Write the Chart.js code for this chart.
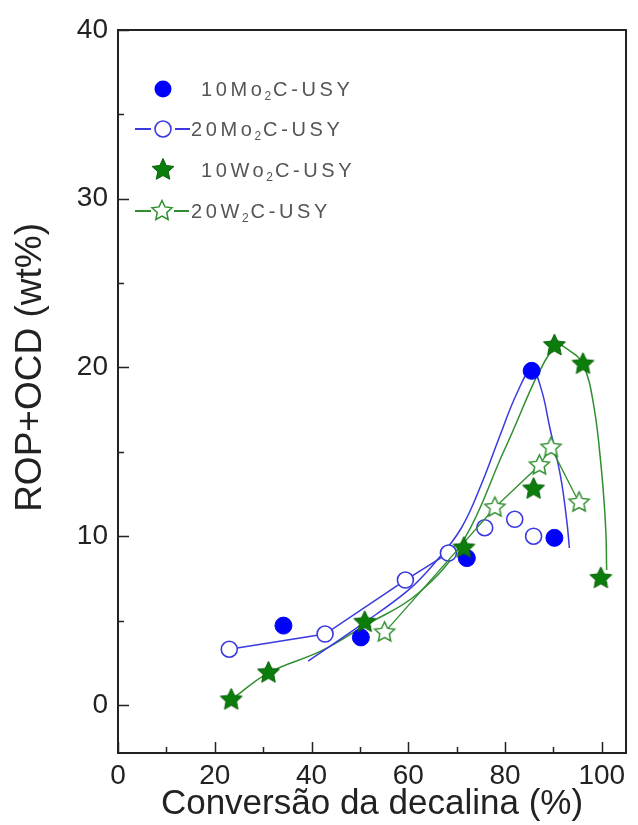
<!DOCTYPE html>
<html><head><meta charset="utf-8">
<script src="https://cdn.jsdelivr.net/npm/chart.js@4/dist/chart.umd.min.js"></script>
<style>html,body{margin:0;padding:0;background:#fff}#wrap{width:638px;height:825px}</style>
</head><body><div id="wrap"><canvas id="c" width="638" height="825"></canvas></div>
<script>
// ---- data ----
const mo10X = [34.2, 50.2, 72.1, 85.5, 90.2];
const mo10Y = [4.7, 4.0, 8.7, 19.8, 9.9];
const mo20X = [23.0, 42.8, 59.4, 68.3, 75.8, 82.0, 85.9];
const mo20Y = [3.3, 4.2, 7.4, 9.0, 10.5, 11.0, 10.0];
const w10X = [23.4, 31.1, 51.0, 71.5, 85.9, 90.2, 96.1, 99.8];
const w10Y = [0.3, 1.9, 4.9, 9.3, 12.8, 21.3, 20.2, 7.5];
const w20X = [55.1, 77.9, 87.1, 89.5, 95.3];
const w20Y = [4.3, 11.7, 14.2, 15.25, 12.0];
// hand-drawn trend curves
const mo10FitX = [39.3, 50.0, 60.0, 66.0, 71.0, 75.0, 79.0, 82.5, 85.5, 87.5, 89.2, 91.5, 92.8, 93.3];
const mo10FitY = [2.6, 4.7, 6.8, 8.6, 10.5, 13.0, 16.0, 18.5, 19.9, 18.7, 16.5, 13.5, 10.8, 9.3];
const w10FitX = [23.4, 31.1, 42.0, 51.0, 62.0, 71.5, 80.0, 90.2, 93.3, 96.1, 98.3, 99.9, 100.8, 101.0];
const w10FitY = [0.3, 1.9, 3.2, 4.7, 6.6, 9.8, 15.2, 21.3, 21.0, 20.2, 17.8, 14.0, 10.5, 8.0];
const legendParts = [['10Mo','2','C-USY'], ['20Mo','2','C-USY'], ['10Wo','2','C-USY'], ['20W','2','C-USY']];
const xTicks = [0,10,20,30,40,50,60,70,80,90,100];
const xLabels = [0,20,40,60,80,100];
const yTicks = [0,5,10,15,20,25,30,35,40];
const yLabels = [0,10,20,30,40];
const xTitle = 'Conversão da decalina (%)';
const yTitle = 'ROP+OCD (wt%)';

const BLUE = '#0000ff', BLUE_L = '#3a3ae0', GREEN = '#0b7d0b', GREEN_L = '#2f8f2f';
const FONT = "'Liberation Sans', Arial, sans-serif";
const zip = (xs, ys) => xs.map((x, i) => ({x: x, y: ys[i]}));

function starPath(ctx, cx, cy, R, r) {
  ctx.beginPath();
  for (let i = 0; i < 10; i++) {
    const rad = i % 2 === 0 ? R : r;
    const a = -Math.PI / 2 + i * Math.PI / 5;
    const px = cx + rad * Math.cos(a), py = cy + rad * Math.sin(a);
    if (i === 0) ctx.moveTo(px, py); else ctx.lineTo(px, py);
  }
  ctx.closePath();
}
function drawStar(ctx, cx, cy, R, filled) {
  starPath(ctx, cx, cy, R, R * 0.48);
  if (filled) { ctx.fillStyle = GREEN; ctx.fill(); ctx.strokeStyle = '#0a5f0a'; ctx.lineWidth = 1; ctx.stroke(); }
  else { ctx.fillStyle = '#fff'; ctx.fill(); ctx.strokeStyle = GREEN_L; ctx.lineWidth = 1.5; ctx.stroke(); }
}
function starImage(R, filled) {
  const c = document.createElement('canvas');
  c.width = c.height = Math.ceil(2 * R + 4);
  drawStar(c.getContext('2d'), c.width / 2, c.height / 2, R, filled);
  return c;
}
const starFilled = starImage(11.5, true);
const starOpen = starImage(10.5, false);

const deco = {
  id: 'deco',
  afterDatasetsDraw(chart) {
    const {ctx, chartArea: a, scales: {x, y}} = chart;
    ctx.save();
    // frame
    ctx.strokeStyle = '#222'; ctx.lineWidth = 2;
    ctx.strokeRect(a.left, a.top, a.right - a.left, a.bottom - a.top);
    // inward ticks
    ctx.lineWidth = 1.5;
    ctx.beginPath();
    xTicks.forEach(v => {
      const px = Math.round(x.getPixelForValue(v)) + 0.5;
      const len = xLabels.includes(v) ? 11 : 6;
      ctx.moveTo(px, a.bottom); ctx.lineTo(px, a.bottom - len);
    });
    yTicks.forEach(v => {
      const py = Math.round(y.getPixelForValue(v)) + 0.5;
      const len = yLabels.includes(v) ? 11 : 6;
      ctx.moveTo(a.left, py); ctx.lineTo(a.left + len, py);
    });
    ctx.stroke();
    // y title centered on 0..40 range
    const yc = (y.getPixelForValue(0) + y.getPixelForValue(40)) / 2;
    ctx.translate(31, yc); ctx.rotate(-Math.PI / 2);
    ctx.fillStyle = '#222'; ctx.font = '37px ' + FONT;
    ctx.textAlign = 'center'; ctx.textBaseline = 'middle';
    ctx.fillText(yTitle, 0, 0);
    ctx.restore();

    // legend
    ctx.save();
    const rows = [89, 129, 170, 211];
    ctx.fillStyle = BLUE; ctx.beginPath(); ctx.arc(163, rows[0], 8.5, 0, Math.PI * 2); ctx.fill();
    ctx.strokeStyle = BLUE_L; ctx.lineWidth = 1.8;
    ctx.beginPath(); ctx.moveTo(135, rows[1]); ctx.lineTo(151, rows[1]); ctx.moveTo(175, rows[1]); ctx.lineTo(190, rows[1]); ctx.stroke();
    ctx.fillStyle = '#fff'; ctx.lineWidth = 1.6;
    ctx.beginPath(); ctx.arc(163, rows[1], 8, 0, Math.PI * 2); ctx.fill(); ctx.stroke();
    drawStar(ctx, 163, rows[2], 11.5, true);
    ctx.strokeStyle = GREEN_L; ctx.lineWidth = 1.8;
    ctx.beginPath(); ctx.moveTo(135, rows[3]); ctx.lineTo(151, rows[3]); ctx.moveTo(174, rows[3]); ctx.lineTo(189, rows[3]); ctx.stroke();
    drawStar(ctx, 162, rows[3], 10.5, false);
    const starts = [201, 191, 201, 191];
    ctx.fillStyle = '#555'; ctx.textBaseline = 'middle'; ctx.textAlign = 'left';
    legendParts.forEach((p, i) => {
      let xx = starts[i];
      const yy = rows[i] + 1;
      ctx.letterSpacing = '3.6px';
      ctx.font = '20px ' + FONT;
      ctx.fillText(p[0], xx, yy); xx += ctx.measureText(p[0]).width;
      ctx.font = '12px ' + FONT; ctx.letterSpacing = '1px';
      ctx.fillText(p[1], xx - 1, yy + 7); xx += ctx.measureText(p[1]).width;
      ctx.font = '20px ' + FONT; ctx.letterSpacing = '3.6px';
      ctx.fillText(p[2], xx, yy);
    });
    ctx.restore();
  }
};

new Chart(document.getElementById('c'), {
  type: 'scatter',
  data: {
    datasets: [
      { label: '10Wo2C-USY', data: zip(w10X, w10Y), pointStyle: starFilled, pointRadius: 11, showLine: false },
      { label: '10Mo2C-USY', data: zip(mo10X, mo10Y), pointStyle: 'circle', pointRadius: 8.5,
        pointBackgroundColor: BLUE, pointBorderColor: BLUE, pointBorderWidth: 1, showLine: false },
      { label: '20W2C-USY', data: zip(w20X, w20Y), pointStyle: starOpen, pointRadius: 10,
        showLine: true, borderColor: GREEN_L, borderWidth: 1.3, tension: 0 },
      { label: '20Mo2C-USY', data: zip(mo20X, mo20Y), pointStyle: 'circle', pointRadius: 8,
        pointBackgroundColor: '#fff', pointBorderColor: BLUE_L, pointBorderWidth: 1.6,
        showLine: true, borderColor: BLUE_L, borderWidth: 1.6, tension: 0,
        segment: { borderColor: ctx => ctx.p0DataIndex >= 3 ? 'rgba(0,0,0,0)' : BLUE_L } },
      { label: 'fit10Mo', data: zip(mo10FitX, mo10FitY), showLine: true, pointRadius: 0,
        borderColor: BLUE_L, borderWidth: 1.5, tension: 0.4 },
      { label: 'fit10W', data: zip(w10FitX, w10FitY), showLine: true, pointRadius: 0,
        borderColor: GREEN_L, borderWidth: 1.5, tension: 0.4 }
    ]
  },
  options: {
    responsive: false, animation: false, devicePixelRatio: 1,
    layout: { padding: { left: 0, top: 30, right: 7, bottom: 0 } },
    plugins: { legend: { display: false }, tooltip: { enabled: false } },
    scales: {
      x: {
        type: 'linear', min: 0, max: 105,
        afterBuildTicks: s => { s.ticks = xTicks.map(v => ({value: v})); },
        afterFit: s => { s.height = 72; },
        grid: { display: false, drawTicks: false },
        border: { display: false },
        ticks: { autoSkip: false, maxRotation: 0, padding: 6, color: '#222',
          font: { family: FONT, size: 28 },
          callback: v => xLabels.includes(v) ? String(v) : '' },
        title: { display: true, text: xTitle, color: '#222', padding: { top: 0, bottom: 0 },
          font: { family: FONT, size: 35 } }
      },
      y: {
        type: 'linear', min: -2.85, max: 40,
        afterBuildTicks: s => { s.ticks = yTicks.map(v => ({value: v})); },
        afterFit: s => { s.width = 118; },
        grid: { display: false, drawTicks: false },
        border: { display: false },
        ticks: { autoSkip: false, padding: 10, color: '#222',
          font: { family: FONT, size: 28 },
          callback: v => yLabels.includes(v) ? String(v) : '' }
      }
    }
  },
  plugins: [deco]
});
</script>
</body></html>
